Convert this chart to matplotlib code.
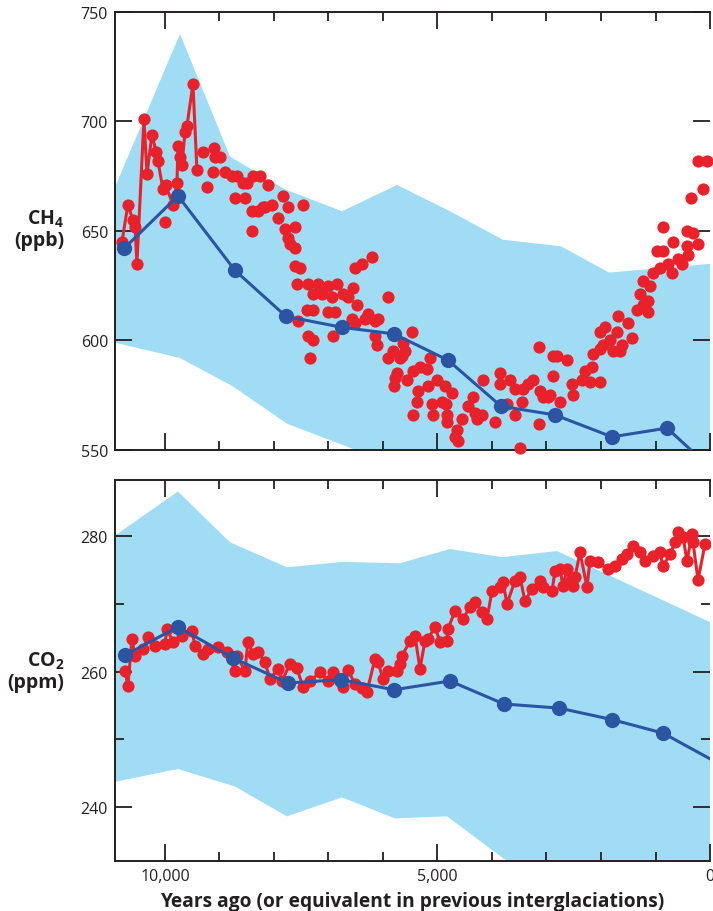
import numpy as np
import matplotlib.pyplot as plt
from matplotlib.ticker import FixedLocator, MultipleLocator

plt.rcParams['font.family'] = ['Open Sans', 'DejaVu Sans']
plt.rcParams['mathtext.fontset'] = 'custom'
plt.rcParams['mathtext.rm'] = 'Open Sans'
plt.rcParams['mathtext.bf'] = 'Open Sans:bold'

# colours
band_c = '#A0DDF5'
red_c = '#E8212B'
blue_c = '#2B54A3'
ink = '#231F20'

# ---- CH4 ----
# model range (upper / lower edge)
ch4_hi_yr = [10917, 9725, 8807, 7798, 6752, 5743, 4770, 3800, 2734, 1853, 0]
ch4_hi = [670, 740, 684, 669, 659, 671, 659, 646, 643, 631, 635]
ch4_lo_yr = [10917, 9725, 8752, 7761, 6606, 5500, 0]
ch4_lo = [599, 592, 579, 562, 551, 540, 485]

# interglacial average
ch4_avg_yr = [10752, 9761, 8716, 7780, 6752, 5798, 4807, 3835, 2844, 1798, 789, 0]
ch4_avg = [642, 666, 632, 611, 606, 603, 591, 570, 566, 556, 560, 542]

# Holocene ice core, early high-resolution section (joined)
ch4_core1_yr = [10790, 10680, 10590, 10550, 10515, 10386, 10330, 10240, 10160, 10130,
                10037, 9990, 9853, 9780, 9762, 9725, 9689, 9634, 9597, 9487, 9414]
ch4_core1 = [645, 662, 655, 652, 635, 701, 676, 694, 686, 682,
             669, 671, 662, 672, 689, 684, 680, 695, 698, 717, 678]

# Holocene ice core, remaining samples
ch4_core2_yr = [10000, 9303, 9230, 9102, 9083, 8992, 9120, 8900, 8771, 8680, 8716, 8570,
                8496, 8533, 8386, 8258, 8404, 8294, 8404, 8203, 8111, 7835, 7468, 7744,
                8166, 8037, 7927, 7799, 7615, 7744, 7707, 7615, 7615, 7524, 7579, 7377,
                7193, 7010, 6845, 6551, 7285, 7120, 6936, 6734, 6643, 7395, 7285, 7010,
                6881, 6478, 6514, 6386, 6202, 5909, 7560, 7377, 7285, 6918, 7340, 6570,
                6331, 6147, 6276, 6092, 6514, 6147, 6111, 5909, 5817, 5689, 5744, 5468,
                5633, 5652, 5597, 5780, 5790, 5560, 5450, 5322, 5193, 5138, 5358, 5175,
                5010, 4863, 4734, 5377, 5101, 4918, 4850, 5450, 5090, 4826, 4820, 4551,
                4312, 4276, 4184, 4643, 4624, 4680, 4441, 4349, 4166, 3945, 3854, 3850,
                3670, 3725, 3578, 3578, 3450, 3431, 3340, 3248, 3487, 3138, 3120, 3065,
                2973, 3138, 2881, 2881, 2808, 2624, 2936, 2753, 2532, 2349, 2202, 2019,
                2514, 2294, 2165, 2147, 2019, 1963, 1835, 1780, 1652, 1615, 1431, 2019,
                1927, 1707, 1688, 1505, 1340, 1229, 1138, 1138, 1285, 1101, 1229, 1046,
                918, 697, 771, 973, 862, 587, 514, 679, 422, 404, 220, 862, 422, 312,
                349, 128, 220, 55]
ch4_core2 = [654, 686, 670, 688, 684, 684, 677, 677, 675, 675, 665, 672,
             672, 665, 675, 675, 659, 659, 650, 661, 671, 666, 662, 661,
             661, 662, 656, 651, 652, 647, 644, 642, 634, 633, 626, 626,
             626, 625, 626, 624, 621, 621, 620, 621, 620, 614, 614, 613,
             613, 616, 633, 635, 638, 620, 609, 602, 600, 602, 592, 610,
             610, 609, 612, 610, 608, 602, 598, 592, 595, 592, 585, 604,
             599, 593, 595, 583, 579, 582, 586, 588, 587, 592, 577, 579,
             582, 579, 576, 572, 571, 572, 571, 566, 566, 566, 563, 564,
             567, 564, 566, 559, 554, 556, 570, 574, 582, 563, 585, 580,
             582, 571, 578, 566, 572, 578, 580, 582, 551, 597, 577, 574,
             574, 562, 593, 584, 593, 591, 575, 572, 580, 582, 581, 581,
             575, 586, 588, 594, 596, 598, 600, 595, 595, 598, 601, 604,
             606, 604, 611, 608, 614, 616, 613, 618, 621, 625, 627, 631,
             633, 631, 635, 641, 641, 637, 635, 645, 643, 639, 644, 652, 650, 649,
             665, 669, 682, 682]

# ---- CO2 ----
co2_hi_yr = [10917, 9762, 8808, 7762, 6752, 5689, 4771, 3817, 2808, 0]
co2_hi = [280.1, 286.6, 279.1, 275.4, 276.2, 276.0, 278.1, 276.9, 277.8, 267.3]
co2_lo_yr = [10917, 9762, 8716, 7762, 6752, 5780, 4826, 3725, 0]
co2_lo = [243.7, 245.6, 243.0, 238.6, 241.4, 238.3, 238.6, 232.0, 210.0]

co2_avg_yr = [10735, 9762, 8753, 7744, 6771, 5799, 4771, 3780, 2771, 1798, 862, 0]
co2_avg = [262.4, 266.6, 262.0, 258.3, 258.8, 257.3, 258.6, 255.2, 254.6, 252.9, 250.9, 247.1]

co2_core_yr = [10735, 10680, 10606, 10551, 10404, 10313, 10184, 10000, 9964, 9854,
               9689, 9505, 9450, 9303, 9212, 9028, 8863, 8716, 8680, 8533,
               8478, 8386, 8294, 8166, 8074, 7927, 7854, 7707, 7579, 7468,
               7340, 7157, 7010, 6918, 6790, 6734, 6643, 6514, 6386, 6294,
               6147, 6092, 6000, 5909, 5744, 5689, 5652, 5505, 5413, 5322,
               5230, 5175, 5046, 4955, 4826, 4808, 4680, 4532, 4404, 4312,
               4184, 4092, 4000, 3854, 3798, 3725, 3578, 3487, 3395, 3266,
               3120, 3064, 2899, 2844, 2753, 2697, 2624, 2569, 2514, 2477,
               2386, 2257, 2202, 2055, 1872, 1743, 1615, 1523, 1413, 1285,
               1193, 1046, 918, 862, 734, 642, 587, 495, 422, 330,
               312, 220, 92]
co2_core = [260.1, 257.9, 264.8, 262.3, 263.3, 265.1, 263.8, 264.1, 266.3, 264.4,
            265.3, 266.0, 263.8, 262.6, 263.3, 263.6, 262.9, 260.1, 262.3, 260.1,
            264.4, 262.6, 262.9, 261.4, 258.9, 260.4, 258.6, 261.1, 260.5, 257.7,
            258.6, 259.9, 258.6, 259.9, 258.9, 257.7, 260.2, 258.2, 257.5, 257.0,
            261.9, 261.4, 258.9, 260.1, 260.1, 261.1, 262.3, 264.5, 265.3, 260.4,
            264.5, 264.8, 266.6, 264.4, 264.5, 266.3, 268.9, 267.8, 269.5, 270.3,
            268.8, 267.8, 271.9, 272.5, 273.2, 270.0, 273.4, 274.0, 270.4, 272.2,
            273.4, 272.5, 271.9, 274.8, 275.1, 272.6, 275.1, 273.2, 272.6, 273.9,
            277.6, 272.5, 276.3, 276.2, 275.1, 275.6, 276.6, 277.3, 278.5, 277.6,
            276.3, 277.0, 277.6, 275.6, 277.3, 279.1, 280.6, 279.9, 276.3, 280.3,
            279.1, 273.5, 278.8]


def band(ax, hx, hy, lx, ly):
    xs = np.concatenate([hx, lx[::-1]])
    ys = np.concatenate([hy, ly[::-1]])
    ax.fill(xs, ys, color=band_c, lw=0, zorder=1)


def style(ax, ylim, ymajor, yminor=None):
    ax.set_xlim(10917, 0)
    ax.set_ylim(*ylim)
    ax.xaxis.set_major_locator(FixedLocator([10000, 5000, 0]))
    ax.xaxis.set_minor_locator(MultipleLocator(1000))
    ax.yaxis.set_major_locator(FixedLocator(ymajor))
    if yminor is not None:
        ax.yaxis.set_minor_locator(FixedLocator(yminor))
    ax.tick_params(which='both', direction='in', top=True, bottom=True,
                   left=True, right=True, color=ink, width=1.3,
                   labelsize=11.5, labelcolor=ink, pad=5)
    ax.tick_params(which='major', length=12)
    ax.tick_params(which='minor', length=6.5)
    for s in ['left', 'top', 'bottom']:
        ax.spines[s].set_color(ink)
        ax.spines[s].set_linewidth(1.4)
    ax.spines['right'].set_visible(False)


fig = plt.figure(figsize=(7.13, 9.12), dpi=100)
ax1 = fig.add_axes([0.1613, 0.5055, 0.8345, 0.4803])
ax2 = fig.add_axes([0.1613, 0.0548, 0.8345, 0.4178])

# top: methane
band(ax1, ch4_hi_yr, ch4_hi, ch4_lo_yr, ch4_lo)
ax1.plot(ch4_core1_yr, ch4_core1, '-o', color=red_c, lw=2.2, ms=8.8,
         mec='none', zorder=3)
ax1.plot(ch4_core2_yr, ch4_core2, 'o', color=red_c, ms=8.8, mec='none',
         zorder=3, clip_on=False)
ax1.plot(ch4_avg_yr, ch4_avg, '-o', color=blue_c, lw=2.2, ms=11, mec='none',
         zorder=4, markevery=list(range(len(ch4_avg) - 1)))
style(ax1, (550, 750), [550, 600, 650, 700, 750])
ax1.set_xticklabels([])

# bottom: carbon dioxide
band(ax2, co2_hi_yr, co2_hi, co2_lo_yr, co2_lo)
ax2.plot(co2_core_yr, co2_core, '-o', color=red_c, lw=2.2, ms=8.8,
         mec='none', zorder=3)
ax2.plot(co2_avg_yr, co2_avg, '-o', color=blue_c, lw=2.2, ms=11, mec='none',
         zorder=4, markevery=list(range(len(co2_avg) - 1)))
style(ax2, (232, 288.3), [240, 260, 280], [250, 270])
ax2.set_xticklabels(['10,000', '5,000', '0'])
ax2.set_xlabel('Years ago (or equivalent in previous interglaciations)',
               fontsize=13.8, fontweight='bold', color=ink, labelpad=5)

fig.text(0.09, 0.748, r'CH$_\mathbf{4}$' + '\n(ppb)', ha='right', va='center',
         fontsize=14, fontweight='bold', color=ink, linespacing=1.05)
fig.text(0.09, 0.263, r'CO$_\mathbf{2}$' + '\n(ppm)', ha='right', va='center',
         fontsize=14, fontweight='bold', color=ink, linespacing=1.05)

fig.savefig('out.png', dpi=100)
